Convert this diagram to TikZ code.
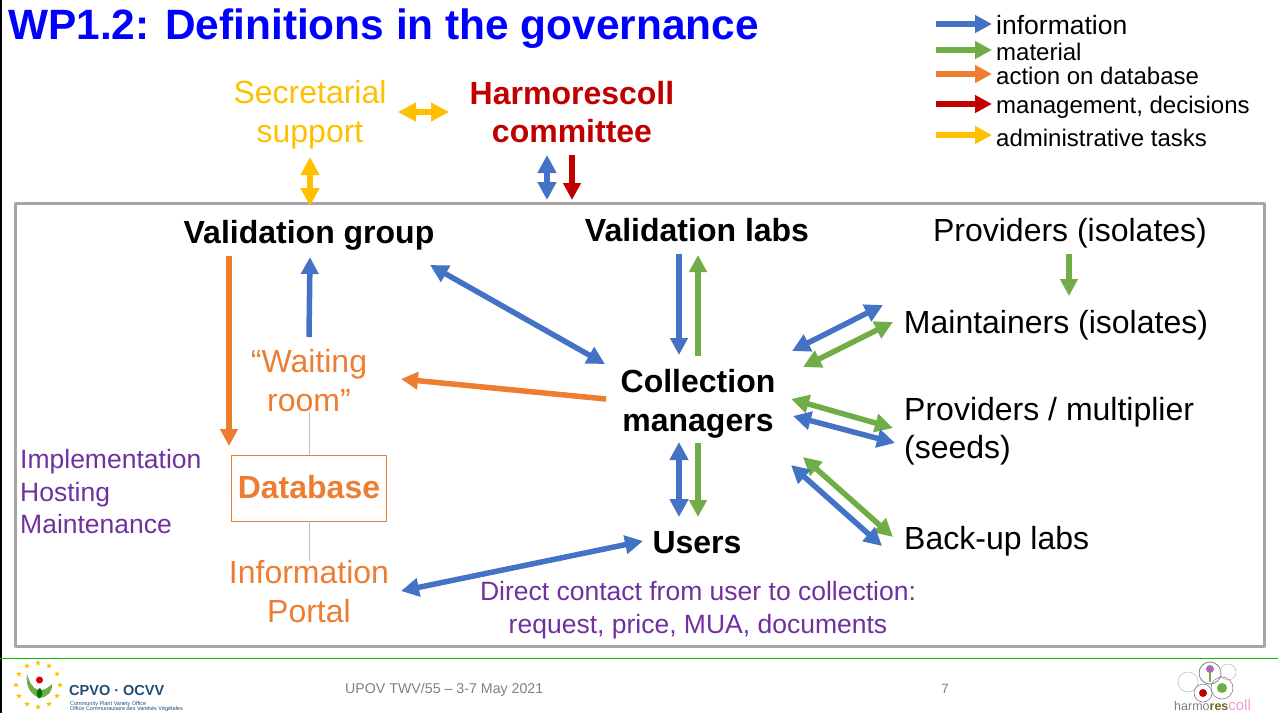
\documentclass[tikz,border=0pt]{standalone}
\usepackage{fontspec}
\setmainfont{Liberation Sans}
\usetikzlibrary{arrows.meta,calc,shapes.geometric}
\definecolor{infoblue}{HTML}{4472C4}
\definecolor{matgreen}{HTML}{70AD47}
\definecolor{dbaorange}{HTML}{ED7D31}
\definecolor{mgmtred}{HTML}{C00000}
\definecolor{admyellow}{HTML}{FFC000}
\definecolor{notepurple}{HTML}{7030A0}
\definecolor{framegray}{HTML}{A6A6A6}
\definecolor{cpvoblue}{HTML}{1F4E79}
\newcommand{\fsz}[1]{\fontsize{#1}{#1}\selectfont}
\begin{document}
\begin{tikzpicture}[line join=round,x=1pt,y=-1pt,
    lbl/.style={inner sep=0pt,align=center,font=\fsz{32}},
    lblb/.style={inner sep=0pt,align=center,font=\fsz{32}\bfseries},
    leg/.style={inner sep=0pt,anchor=west,font=\fsz{24}},
    tip/.style={-{Triangle[width=17pt,length=17pt]}},
    tips/.style={{Triangle[width=18pt,length=18pt]}-{Triangle[width=18pt,length=18pt]}},
    info/.style={line width=5.5pt,draw=infoblue,color=infoblue},
    mat/.style={line width=5.5pt,draw=matgreen,color=matgreen},
    act/.style={line width=5.5pt,draw=dbaorange,color=dbaorange},
    mgmt/.style={line width=5.5pt,draw=mgmtred,color=mgmtred},
    adm/.style={line width=5.5pt,draw=admyellow,color=admyellow}]
\useasboundingbox (0,0) rectangle (1278,713);
\draw [line width=2pt] (1,0)-- (1,713);
\draw [line width=1pt,color=green!75!black] (0,658)-- (1278,658);
\node [draw=framegray,line width=3pt,minimum width=1249pt,minimum height=443pt,inner sep=0pt] (frame) at (639.5,424.5) {};

\node [inner sep=0pt,anchor=west,text=blue,font=\fsz{42.4}\bfseries] (title) at (8,29) {WP1.2: Definitions in the governance};

\node [leg,font=\fsz{26.5}] (leginfo) at (996,25) {information};
\node [leg] (legmat) at (996,52) {material};
\node [leg] (legact) at (996,76) {action on database};
\node [leg] (legmgmt) at (996,107) {management, decisions};
\node [leg] (legadm) at (996,138) {administrative tasks};
\draw [info,tip] ($(leginfo.west)+(-60,-1)$)-- ($(leginfo.west)+(-4,-1)$);
\draw [mat,tip] ($(legmat.west)+(-60,-2)$)-- ($(legmat.west)+(-4,-2)$);
\draw [act,tip] ($(legact.west)+(-60,-2)$)-- ($(legact.west)+(-4,-2)$);
\draw [mgmt,tip] ($(legmgmt.west)+(-60,-3)$)-- ($(legmgmt.west)+(-4,-3)$);
\draw [adm,tip] ($(legadm.west)+(-60,-3)$)-- ($(legadm.west)+(-4,-3)$);

\node [lbl,text=admyellow] (secretarial) at (310,114.5) {Secretarial\\[7pt]support};
\node [lblb,text=mgmtred] (committee) at (572,112) {Harmorescoll\\[6pt]committee};
\node [lblb] (vgroup) at (309,235) {Validation group};
\node [lblb] (vlabs) at (697,230) {Validation labs};
\node [lbl] (isolates) at (1070,233) {Providers (isolates)};
\node [lbl] (maintainers) at (1056,325) {Maintainers (isolates)};
\node [lblb] (managers) at (698,404) {Collection\\[7pt]managers};
\node [lbl,align=left,anchor=west] (seeds) at (904,431) {Providers / multiplier\\[6pt](seeds)};
\node [lbl,anchor=west] (backup) at (904,541) {Back-up labs};
\node [lbl,text=dbaorange] (waiting) at (309,381) {“Waiting\\[7pt]room”};
\node [draw=dbaorange,line width=0.8pt,minimum width=155pt,minimum height=66pt,inner sep=0pt,text=dbaorange,font=\fsz{32}\bfseries] (database) at (309,488) {\raisebox{2pt}{Database}};
\node [lbl,text=dbaorange] (portal) at (309,592) {Information\\[7pt]Portal};
\node [lblb] (users) at (697,543) {Users};
\node [inner sep=0pt,align=left,anchor=west,text=notepurple,font=\fsz{26.5}] (hosting) at (20,492) {Implementation\\[6pt]Hosting\\[6pt]Maintenance};
\node [inner sep=0pt,align=center,text=notepurple,font=\fsz{26.5}] (direct) at (698,610) {Direct contact from user to collection:\\[7pt]request, price, MUA, documents};

\draw [line width=0.4pt,color=lightgray] (waiting.south)-- (database.north);
\draw [line width=0.4pt,color=lightgray] (database.south)-- (portal.north);

\draw [adm,tips] ($(secretarial)+(88,-2.5)$)-- ($(committee)+(-123,0)$);
\draw [adm,tips] ($(secretarial)+(0,42.5)$)-- ($(vgroup)+(1,-29)$);
\draw [info,tips] ($(committee)+(-25,43)$)-- ($(frame)+(-92.5,-224.5)$);
\draw [mgmt,tip] ($(committee)+(0,43)$)-- ($(frame)+(-67.5,-224.5)$);
\draw [act,tip] ($(vgroup)+(-80,21)$)-- ($(database)+(-80,-42)$);
\draw [info,tip] ($(waiting)+(0,-44)$)-- ($(vgroup)+(1,22)$);
\draw [info,tips] ($(vgroup)+(121,30)$)-- ($(managers)+(-93,-40)$);
\draw [act,tip] ($(managers)+(-92,-5)$)-- ($(waiting)+(92,-2)$);
\draw [info,tip] ($(vlabs)+(-18,24)$)-- ($(managers)+(-19,-49)$);
\draw [mat,tip] ($(managers)+(0,-48)$)-- ($(vlabs)+(1,25)$);
\draw [mat,tip] ($(isolates)+(-1,21)$)-- ($(maintainers)+(13,-29)$);
\draw [info,tips] ($(maintainers)+(-173,-20)$)-- ($(managers)+(94,-53)$);
\draw [mat,tips] ($(maintainers)+(-163,-3)$)-- ($(managers)+(105,-37)$);
\draw [mat,tips] ($(managers)+(93,-5)$)-- ($(seeds.west)+(-11,-3)$);
\draw [info,tips] ($(managers)+(95,12)$)-- ($(seeds.west)+(-9,12)$);
\draw [mat,tips] ($(managers)+(105,53)$)-- ($(backup.west)+(-11,-4)$);
\draw [info,tips] ($(managers)+(93,61)$)-- ($(backup.west)+(-22,5)$);
\draw [info,tips] ($(managers)+(-19,38)$)-- ($(users)+(-18,-26)$);
\draw [mat,tip] ($(managers)+(0,39)$)-- ($(users)+(1,-26)$);
\draw [info,tips] ($(users)+(-54,-2)$)-- ($(portal)+(92,-1)$);

\node [inner sep=0pt,anchor=west,text=gray,font=\fsz{14.2}] (meeting) at (345,690) {UPOV TWV/55 – 3-7 May 2021};
\node [inner sep=0pt,text=gray,font=\fsz{13.5}] (pagenum) at (945,689) {7};

\foreach \a in {0,30,...,330}
    \node [star,star points=5,star point ratio=2.4,fill=admyellow,inner sep=0pt,minimum size=6pt] (eustar\a) at ($(38,685)+(\a:22)$) {};
\fill [color=matgreen] (27,674) .. controls (25,690) and (34,696) .. (40,698) .. controls (48,697) and (53,691) .. (52,684) .. controls (47,689) and (42,691) .. (38,690) .. controls (32,688) and (29,681) .. (27,674);
\fill [color=green!45!black] (38,698) .. controls (35,692) and (38,689) .. (40,688) .. controls (43,691) and (43,695) .. (40,698);
\fill [color=red!85!black] (39.5,680) circle (3.5pt);
\node [inner sep=0pt,anchor=west,text=cpvoblue,font=\fsz{14.5}\bfseries] (cpvo) at (69,690) {CPVO · OCVV};
\node [inner sep=0pt,anchor=west,text=cpvoblue,font=\fsz{5.5}] (cpvoen) at (70,704) {Community Plant Variety Office};
\node [inner sep=0pt,anchor=west,text=cpvoblue,font=\fsz{5.5}] (cpvofr) at (70,709) {Office Communautaire des Variétés Végétales};

\draw [line width=0.6pt,color=lightgray] (1188,682) circle (10pt);
\draw [line width=0.8pt,color=gray] (1210,673) circle (11pt);
\draw [line width=0.6pt,color=lightgray] (1228,672) circle (8pt);
\draw [line width=0.6pt,color=gray] (1203,693) circle (9pt);
\draw [line width=0.6pt,color=gray] (1222,688) circle (11pt);
\fill [color=violet!60] (1210,669) circle (4pt);
\draw [line width=1.2pt,color=matgreen] (1210,672)-- (1210,682);
\fill [color=matgreen] (1222,688) circle (5pt);
\fill [color=red!75!black] (1203,693) circle (4pt);
\node [inner sep=0pt,anchor=west,font=\fsz{12.5}] (harmologo) at (1174,705) {\textcolor{gray}{harmo}\textcolor{olive!70!black}{\bfseries res}\textcolor{magenta!40}{\fsz{15}coll}};
\end{tikzpicture}
\end{document}
